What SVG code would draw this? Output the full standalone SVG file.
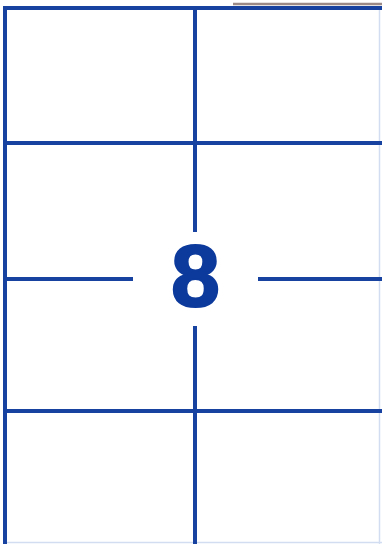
<svg xmlns="http://www.w3.org/2000/svg" width="382" height="544" viewBox="0 0 382 544">
<style>
.ln{stroke:#1842a0;stroke-width:4;fill:none;stroke-linecap:butt}
.faint{stroke:#d3ddf2;stroke-width:1.5;fill:none}
.num{font-family:"Liberation Sans","DejaVu Sans",sans-serif;font-weight:bold;font-size:88px;fill:#0c3a9c;stroke:#0c3a9c;stroke-width:2;text-anchor:middle}
</style>
<rect width="382" height="544" fill="#ffffff"/>
<line x1="233" y1="4" x2="382" y2="4" stroke="#9c8a86" stroke-width="2.5"/>
<g id="frame">
<line class="faint" x1="379.5" y1="8" x2="379.5" y2="544"/>
<line class="faint" x1="5" y1="542.5" x2="382" y2="542.5"/>
<line class="ln" x1="5" y1="6" x2="5" y2="544"/>
<line class="ln" x1="3" y1="8" x2="382" y2="8"/>
</g>
<g id="connectors">
<line class="ln" x1="195" y1="8" x2="195" y2="232"/>
<line class="ln" x1="195" y1="326" x2="195" y2="544"/>
<line class="ln" x1="5" y1="143" x2="382" y2="143"/>
<line class="ln" x1="5" y1="279" x2="133" y2="279"/>
<line class="ln" x1="258" y1="279" x2="382" y2="279"/>
<line class="ln" x1="5" y1="411" x2="382" y2="411"/>
</g>
<g id="label-count">
<text class="num" x="195.5" y="306">8</text>
</g>
</svg>
